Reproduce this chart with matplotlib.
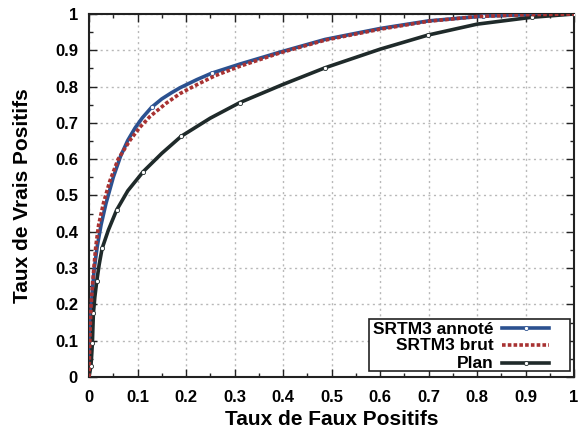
import matplotlib
matplotlib.use("Agg")
import matplotlib.pyplot as plt
from matplotlib.patches import Rectangle
from matplotlib.lines import Line2D
from matplotlib.ticker import MultipleLocator

plt.rcParams['font.family'] = ['Liberation Sans', 'DejaVu Sans']
plt.rcParams['font.weight'] = 'bold'

# ROC curves: false positive rate vs true positive rate
fpr_annote = [0, 0.001, 0.002, 0.004, 0.007, 0.011, 0.017, 0.025, 0.035, 0.05,
              0.065, 0.08, 0.095, 0.11, 0.129, 0.15, 0.17, 0.188, 0.222, 0.253,
              0.311, 0.394, 0.487, 0.6, 0.7, 0.812, 0.9, 1.0]
tpr_annote = [0, 0.05, 0.1, 0.17, 0.24, 0.3, 0.36, 0.42, 0.478, 0.55,
              0.608, 0.652, 0.686, 0.714, 0.743, 0.766, 0.783, 0.797, 0.819, 0.837,
              0.862, 0.895, 0.93, 0.96, 0.981, 0.994, 0.998, 1.0]

fpr_brut = [0, 0.001, 0.002, 0.004, 0.007, 0.01, 0.014, 0.02, 0.03, 0.043,
            0.06, 0.085, 0.105, 0.126, 0.16, 0.188, 0.222, 0.26, 0.311,
            0.394, 0.487, 0.6, 0.7, 0.8, 0.9, 1.0]
tpr_brut = [0, 0.06, 0.12, 0.19, 0.25, 0.3, 0.36, 0.42, 0.48, 0.54,
            0.6, 0.653, 0.688, 0.718, 0.755, 0.781, 0.805, 0.83, 0.856,
            0.893, 0.928, 0.958, 0.98, 0.993, 0.998, 1.0]

fpr_plan = [0, 0.002, 0.004, 0.0055, 0.007, 0.008, 0.009, 0.012, 0.016, 0.021,
            0.027, 0.04, 0.057, 0.08, 0.112, 0.15, 0.19, 0.25, 0.311, 0.4,
            0.487, 0.6, 0.699, 0.8, 0.913, 1.0]
tpr_plan = [0, 0.015, 0.031, 0.06, 0.094, 0.135, 0.175, 0.22, 0.264, 0.31,
            0.354, 0.405, 0.46, 0.513, 0.566, 0.616, 0.663, 0.713, 0.756, 0.806,
            0.852, 0.903, 0.942, 0.972, 0.991, 1.0]

marks_annote = [14, 19, 25]
marks_plan = [2, 4, 6, 8, 10, 12, 14, 16, 18, 20, 22, 24, 25]

labels = ["SRTM3 annoté", "SRTM3 brut", "Plan"]
colors = ["#2b5190", "#a83232", "#1f2a2a"]

fig = plt.figure(figsize=(5.81, 4.29), dpi=100)
ax = fig.add_axes([89 / 581, 52 / 429, 485 / 581, 363 / 429])

lw = 2.6
dotted = (0, (1.0, 0.6))
ax.plot(fpr_annote, tpr_annote, color=colors[0], lw=lw, solid_capstyle='butt',
        solid_joinstyle='round', marker='o', ms=3, mfc='white', mec=colors[0],
        mew=0.6, markevery=marks_annote, zorder=3)
ax.plot(fpr_brut, tpr_brut, color=colors[1], lw=lw, linestyle=dotted, zorder=4)
ax.plot(fpr_plan, tpr_plan, color=colors[2], lw=lw, solid_capstyle='butt',
        solid_joinstyle='round', marker='o', ms=3, mfc='white', mec=colors[2],
        mew=0.6, markevery=marks_plan, zorder=3)

ax.set_xlim(0, 1)
ax.set_ylim(0, 1)
ax.xaxis.set_major_locator(MultipleLocator(0.1))
ax.yaxis.set_major_locator(MultipleLocator(0.1))
ax.xaxis.set_minor_locator(MultipleLocator(0.05))
ax.yaxis.set_minor_locator(MultipleLocator(0.05))

def fmt(v, pos):
    if abs(v) < 1e-9:
        return "0"
    if abs(v - 1) < 1e-9:
        return "1"
    return f"{v:.1f}"

ax.xaxis.set_major_formatter(plt.FuncFormatter(fmt))
ax.yaxis.set_major_formatter(plt.FuncFormatter(fmt))

ax.tick_params(which='both', direction='in', top=True, right=True,
               labelsize=12, width=1.0, color='#222222')
ax.tick_params(which='major', length=5.5)
ax.tick_params(axis='x', which='major', pad=9)
ax.tick_params(axis='y', which='major', pad=8)
ax.tick_params(which='minor', length=3)
for lab in ax.get_xticklabels() + ax.get_yticklabels():
    lab.set_fontweight('bold')

ax.grid(True, which='major', color='#b8b8b8', linestyle=(0, (1.5, 2.5)), lw=1.0)
for s in ax.spines.values():
    s.set_linewidth(1.5)
    s.set_color('#222222')

ax.set_xlabel("Taux de Faux Positifs", fontsize=15, fontweight='bold')
ax.set_ylabel("Taux de Vrais Positifs", fontsize=15, fontweight='bold')
ax.xaxis.set_label_coords(0.5, -0.09)
ax.yaxis.set_label_coords(-0.118, 0.5)

# Key box in the lower right corner, labels right-aligned before the samples
ax.add_patch(Rectangle((0.577, 0.0165), 0.415, 0.1435, transform=ax.transAxes,
                       facecolor='white', edgecolor='#222222', lw=1.2, zorder=6))
baselines = [0.1198, 0.0744, 0.0240]
centers = [0.1350, 0.0882, 0.0399]
styles = ['-', dotted, '-']
for lab, col, yb, yc, ls in zip(labels, colors, baselines, centers, styles):
    ax.text(0.835, yb, lab, transform=ax.transAxes, ha='right', va='baseline',
            fontsize=12.5, fontweight='bold', zorder=7)
    ax.add_line(Line2D([0.852, 0.949], [yc, yc], transform=ax.transAxes,
                       color=col, lw=lw, linestyle=ls, zorder=7))
    if ls == '-':
        ax.add_line(Line2D([0.9], [yc], transform=ax.transAxes, marker='o',
                           ms=3, mfc='white', mec=col, mew=0.6, zorder=8))

fig.savefig("out.png", dpi=100)
